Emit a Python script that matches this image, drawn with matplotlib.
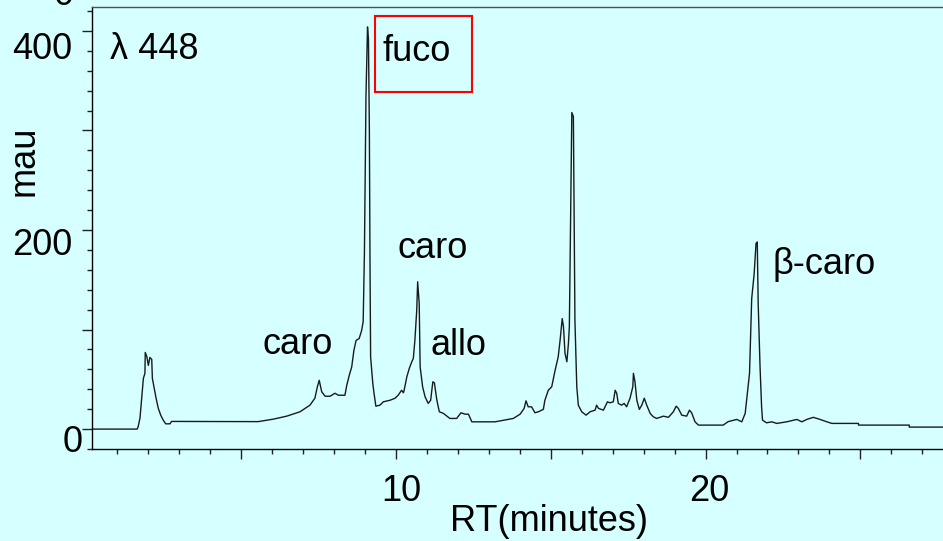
import matplotlib
matplotlib.use("Agg")
import matplotlib.pyplot as plt
from matplotlib.ticker import MultipleLocator
from matplotlib.patches import Rectangle
from matplotlib.transforms import ScaledTranslation

# chromatogram trace (retention time in minutes, mau)
rt_min = [0.18, 1.64, 1.67, 1.73, 1.78, 1.84, 1.89, 1.90, 1.95, 2.00,
          2.05, 2.11, 2.13, 2.19, 2.25, 2.32, 2.40, 2.48, 2.56, 2.70,
          2.75, 5.55, 6.04, 6.47, 6.90, 7.22, 7.38, 7.46, 7.52, 7.60,
          7.71, 7.87, 8.03, 8.14, 8.35, 8.41, 8.49, 8.57, 8.64, 8.71,
          8.81, 8.89, 8.94, 8.98, 9.03, 9.08, 9.11, 9.14, 9.16, 9.18,
          9.25, 9.29, 9.35, 9.48, 9.59, 9.81, 9.97, 10.07, 10.18, 10.24,
          10.26, 10.35, 10.43, 10.51, 10.56, 10.61, 10.67, 10.70, 10.75, 10.78,
          10.86, 10.94, 11.04, 11.12, 11.19, 11.24, 11.32, 11.40, 11.53, 11.74,
          11.96, 12.10, 12.23, 12.34, 12.45, 13.20, 13.79, 14.01, 14.14, 14.20,
          14.27, 14.38, 14.49, 14.60, 14.76, 14.81, 14.92, 15.03, 15.14, 15.24,
          15.30, 15.37, 15.41, 15.46, 15.52, 15.57, 15.60, 15.68, 15.73, 15.78,
          15.84, 15.89, 16.00, 16.14, 16.27, 16.43, 16.48, 16.54, 16.70, 16.83,
          16.91, 17.02, 17.08, 17.13, 17.18, 17.29, 17.37, 17.45, 17.56, 17.65,
          17.67, 17.72, 17.78, 17.86, 17.94, 18.02, 18.10, 18.21, 18.31, 18.42,
          18.64, 18.80, 18.96, 19.05, 19.12, 19.23, 19.39, 19.48, 19.55, 19.66,
          19.77, 20.57, 20.73, 21.01, 21.17, 21.28, 21.42, 21.49, 21.57, 21.63,
          21.67, 21.70, 21.76, 21.81, 21.84, 21.97, 22.14, 22.30, 22.62, 22.95,
          23.11, 23.27, 23.48, 23.70, 23.92, 24.08, 24.94, 24.94, 26.58, 26.58,
          27.67]
mau = [0, 0, 2.3, 11, 29, 51, 56, 77, 73, 64,
       72, 70, 51, 41, 31, 21, 14, 9, 5.3, 5.3,
       7.7, 7.5, 10, 13, 17.4, 24, 31, 42.5, 49, 37.5,
       33, 33, 36, 34, 34, 44, 54, 62.5, 79, 89,
       91, 99, 108, 177, 334, 404, 392, 300, 170, 72.6,
       46, 36, 23, 24, 27.4, 29, 31, 34, 39, 36.5,
       38.5, 52.5, 61, 67.6, 71, 89, 119.5, 148, 126, 62.6,
       42.5, 32.4, 25.8, 29, 47.5, 46.5, 29, 17.4, 15.8, 10.7,
       10.7, 16.4, 15, 15, 7.3, 7.3, 10.7, 15, 20.8, 28.4,
       22.4, 22.4, 16.4, 17.4, 19.8, 29, 39, 42.5, 59, 72.6,
       89, 111, 103, 76, 67.6, 86, 103, 318, 314, 109.5,
       42.5, 24, 17.4, 14, 17.4, 19, 24, 20.8, 19, 27.4,
       26.4, 27.4, 39, 36, 25.8, 24, 25.8, 22.4, 31, 42.5,
       56, 47.5, 29, 19.8, 24, 31, 24, 15.8, 12.4, 10.7,
       13, 11.8, 17.4, 23, 20.8, 14, 13, 19, 16.4, 7.3,
       4, 4, 7.5, 9.7, 7.3, 15.8, 56, 131, 156, 186.5,
       188, 126, 62.6, 22.4, 9, 6.3, 7.3, 5.7, 7.3, 9.7,
       7.3, 9.7, 11.8, 9.7, 7.3, 5.7, 5.7, 4, 4, 2,
       2]

x_ticks = [5, 10, 15, 20, 25]
x_tick_labels = ["", "10", "", "20", ""]
y_ticks = [0, 100, 200, 300, 400]
y_tick_labels = ["0", "", "200", "", "400"]

peak_names = ["λ 448", "fuco", "caro", "caro", "allo", "β-caro"]
peak_text_xy = [(0.76, 372), (9.58, 370), (5.70, 75), (10.06, 172),
                (11.10, 74), (22.15, 156)]

plt.rcParams["font.family"] = ["Liberation Sans", "DejaVu Sans"]
bg = "#d6ffff"
fs = 26

fig = plt.figure(figsize=(9.43, 5.41), dpi=100, facecolor=bg)
ax = fig.add_axes([92 / 943, 92 / 541, 851 / 943, 442 / 541])
ax.set_facecolor(bg)

ax.plot(rt_min, mau, color="#1a1a1a", lw=1.0)
ax.set_xlim(0.18, 27.67)
ax.set_ylim(-20, 424)

ax.spines["right"].set_visible(False)
ax.spines["top"].set_color("#505050")
for s in ["left", "bottom", "top"]:
    ax.spines[s].set_linewidth(1.0)

ax.set_xticks(x_ticks, labels=x_tick_labels)
ax.set_yticks(y_ticks, labels=y_tick_labels)
ax.xaxis.set_minor_locator(MultipleLocator(1))
ax.yaxis.set_minor_locator(MultipleLocator(20))
ax.tick_params(which="major", length=7.2, width=1, labelsize=fs, colors="#222222",
               labelcolor="black")
ax.tick_params(which="minor", length=3.6, width=1, colors="#222222")
ax.tick_params(axis="x", which="major", pad=10.8)
ax.tick_params(axis="y", which="major", pad=7.2)

# the labels in the original sit a bit off their ticks
px = 1 / 100
for lab, (dx, dy) in zip(ax.get_xticklabels(), [(0, 0), (5, 0), (0, 0), (4, 0), (0, 0)]):
    lab.set_transform(lab.get_transform() + ScaledTranslation(dx * px, dy * px, fig.dpi_scale_trans))
for lab, (dx, dy) in zip(ax.get_yticklabels(), [(11, -9), (0, 0), (0, -12), (0, 0), (0, -15)]):
    lab.set_transform(lab.get_transform() + ScaledTranslation(dx * px, dy * px, fig.dpi_scale_trans))

for name, (tx, ty) in zip(peak_names, peak_text_xy):
    ax.text(tx, ty, name, fontsize=fs, ha="left", va="baseline")

# red box around the fuco label
ax.add_patch(Rectangle((9.32, 338.7), 12.45 - 9.32, 415.1 - 338.7,
                       fill=False, edgecolor="red", lw=1.5))

fig.text(549 / 943, 1 - 531 / 541, "RT(minutes)", fontsize=fs, ha="center", va="baseline")
fig.text(24 / 943, 1 - 161 / 541, "mau", fontsize=fs, rotation=90, ha="center", va="center")
# cut-off label at the very top edge
fig.text(63.5 / 943, 1 - 5 / 541, "0", fontsize=fs, ha="center", va="baseline")

fig.savefig("out.png", dpi=100, facecolor=bg)
